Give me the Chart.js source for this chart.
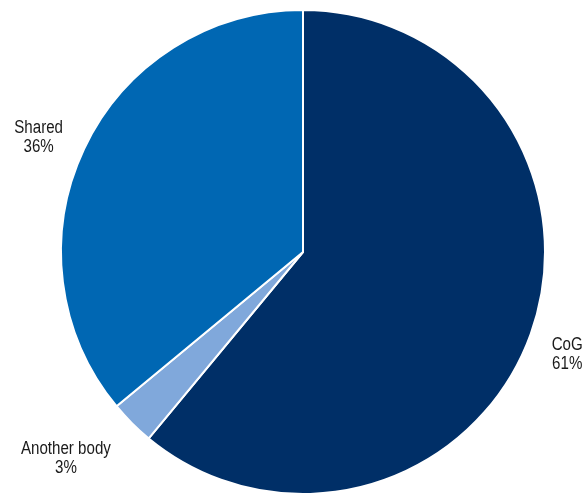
<!DOCTYPE html>
<html>
<head>
<meta charset="utf-8">
<script src="https://cdn.jsdelivr.net/npm/chart.js@4"></script>
<style>
  html, body { margin: 0; padding: 0; background: #fff; }
</style>
</head>
<body>
<canvas id="pieChart" width="584" height="495"></canvas>
<script>
const categories = ['CoG', 'Another body', 'Shared'];
const shares = [61, 3, 36];
const colours = ['#002f67', '#80a8db', '#0067b3'];

// no narrow font here, so squeeze Liberation Sans horizontally
const SQUEEZE = 0.84;

// draws "name / xx%" beside each slice: off the rim point at the middle angle
const outsideLabels = {
  id: 'outsideLabels',
  afterDatasetsDraw(chart) {
    const c = chart.ctx;
    const meta = chart.getDatasetMeta(0);
    c.save();
    c.font = '18px "Liberation Sans", Arial, sans-serif';
    c.fillStyle = '#1a1a1a';
    c.textAlign = 'center';
    c.textBaseline = 'middle';
    meta.data.forEach((arc, i) => {
      const mid = (arc.startAngle + arc.endAngle) / 2;
      const cos = Math.cos(mid), sin = Math.sin(mid);
      const w = Math.max(c.measureText(categories[i]).width, c.measureText(shares[i] + '%').width);
      const hw = w * SQUEEZE / 2;
      const rimX = arc.x + cos * arc.outerRadius;
      const rimY = arc.y + sin * arc.outerRadius;
      const x = rimX + Math.sign(cos) * (21 + hw);
      const y = rimY + sin * 42 + 6;
      c.save();
      c.translate(x, y);
      c.scale(SQUEEZE, 1);
      c.fillText(categories[i], 0, -9.5);
      c.fillText(shares[i] + '%', 0, 9.5);
      c.restore();
    });
    c.restore();
  }
};

new Chart(document.getElementById('pieChart').getContext('2d'), {
  type: 'pie',
  data: {
    labels: categories,
    datasets: [{
      data: shares,
      backgroundColor: colours,
      borderColor: '#ffffff',
      borderWidth: 2
    }]
  },
  options: {
    responsive: false,
    animation: false,
    layout: { padding: { left: 59, right: 37, top: 9, bottom: 0 } },
    plugins: {
      legend: { display: false },
      tooltip: { enabled: false }
    }
  },
  plugins: [outsideLabels]
});
</script>
</body>
</html>
